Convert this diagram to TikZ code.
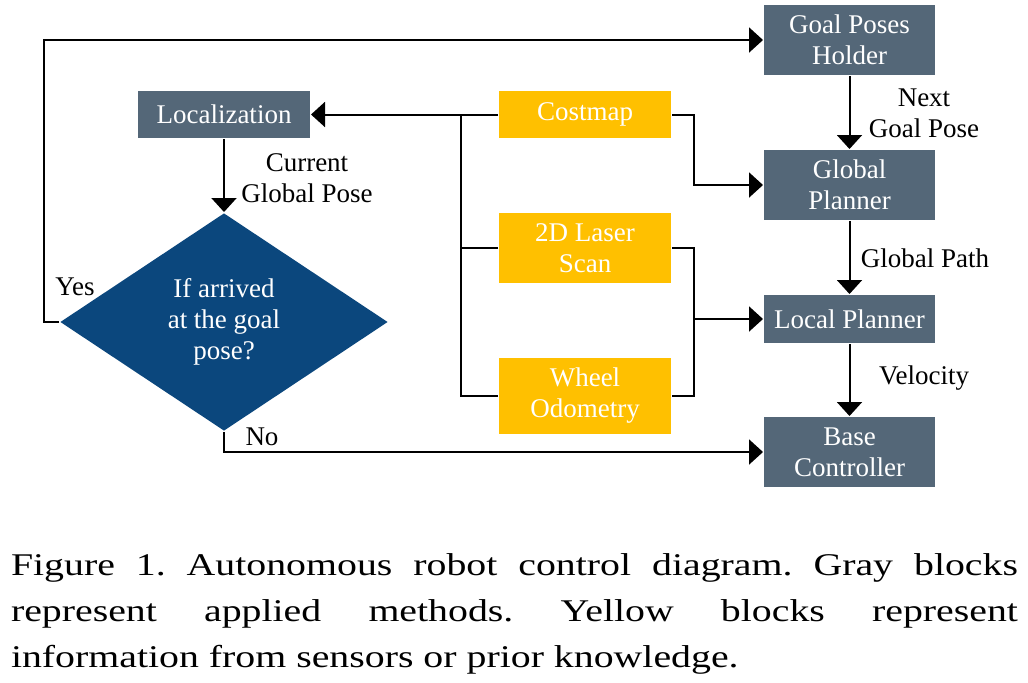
\documentclass[tikz,border=0pt]{standalone}
\usepackage{fontspec}
\setmainfont{Liberation Serif}
\newfontfamily\capfont[FakeStretch=1.26]{Liberation Serif}
\usetikzlibrary{arrows.meta, shapes.geometric}
\frenchspacing

\definecolor{methodgray}{HTML}{546778}
\definecolor{sensoryellow}{HTML}{FFC000}
\definecolor{decisionblue}{HTML}{0B477D}

\begin{document}
\begin{tikzpicture}[x=0.5pt, y=-0.5pt, line width=1pt,
        every node/.style={font=\fontsize{13.5}{15.5}\selectfont},
        method/.style={fill=methodgray, text=white, minimum width=85.5pt, minimum height=35pt, inner sep=0pt, align=center},
        sensor/.style={fill=sensoryellow, text=white, minimum width=86pt, minimum height=35pt, inner sep=0pt, align=center},
        flow/.style={-{Triangle[length=7pt, width=12.5pt]}}]
                \useasboundingbox (0,0) rectangle (1028,682);

                % Methods (gray):
                \node[method] (goal) at (849.5,40) {Goal Poses\\Holder};
                \node[method] (glob) at (849.5,185) {Global\\Planner};
                \node[method, minimum height=24pt] (local) at (849.5,319) {Local Planner};
                \node[method] (base) at (849.5,452) {Base\\Controller};
                \node[method, minimum width=86pt, minimum height=23.5pt] (loc) at (224,114.5) {Localization};

                % Sensors / prior knowledge (yellow):
                \node[sensor, minimum height=23.5pt] (cost) at (585,114.5) {Costmap};
                \node[sensor] (laser) at (585,248) {2D Laser\\Scan};
                \node[sensor, minimum height=38pt] (wheel) at (585,396) {Wheel\\Odometry};

                % Decision:
                \node[diamond, fill=decisionblue, text=white, minimum width=164pt, minimum height=109pt, inner sep=0pt, align=center] (diam) at (224,322) {If arrived\\at the goal\\pose?};

                % Bus points:
                \coordinate (busl) at (461,114.5);
                \coordinate (busr) at (694,319);
                \coordinate (yesx) at (44,322);

                % Connections:
                \draw[flow] (cost.west) -- (loc.east);
                \draw (laser.west) -| (busl);
                \draw (wheel.west) -| (busl);
                \draw[flow] (cost.east) -- (cost.east -| busr) |- (glob.west);
                \draw (laser.east) -| (busr);
                \draw (wheel.east) -| (busr);
                \draw[flow] (busr) -- (local.west);
                \draw[flow] (loc.south) -- (diam.north);
                \draw[flow] (diam.west) -- (yesx) |- (goal.west);
                \draw[flow] (diam.south) |- (base.west);
                \draw[flow] (goal) -- (glob);
                \draw[flow] (glob) -- (local);
                \draw[flow] (local) -- (base);

                % Labels:
                \node[align=center] (curlbl) at (307,178) {Current\\Global Pose};
                \node[align=center] (nextlbl) at (924,113) {Next\\Goal Pose};
                \node (pathlbl) at (925,258) {Global Path};
                \node (vellbl) at (924,378) {Velocity};
                \node (yeslbl) at (75,287) {Yes};
                \node (nolbl) at (262,437) {No};

                % Caption:
                \node[anchor=north west, inner sep=0pt, text width=503.5pt, align=justify, font=\capfont\fontsize{15.8}{23}\selectfont] (caption) at (10,553)
                    {Figure 1. Autonomous robot control diagram. Gray blocks\linebreak represent applied methods. Yellow blocks represent\linebreak information from sensors or prior knowledge.};
            \end{tikzpicture}
\end{document}
